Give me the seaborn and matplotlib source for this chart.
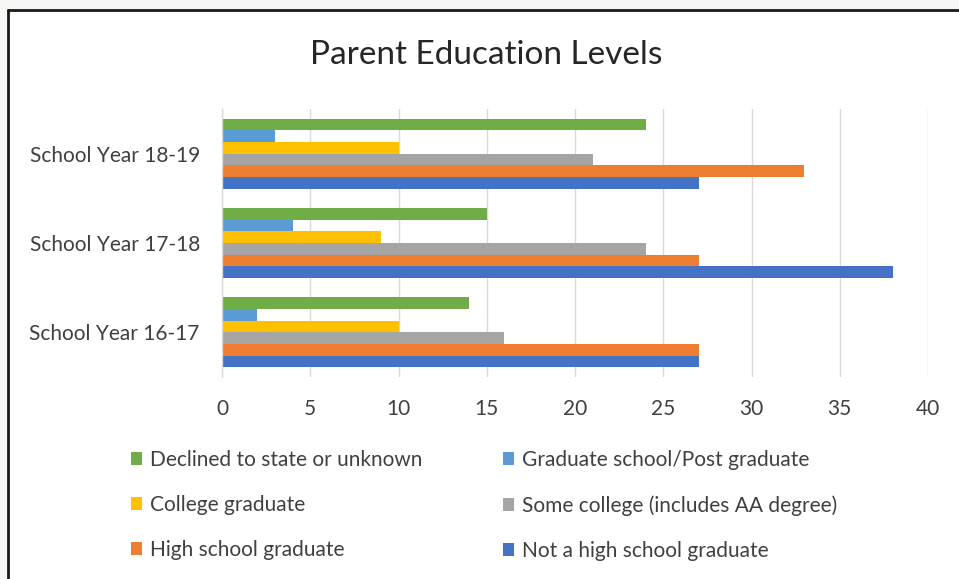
import matplotlib
matplotlib.use("Agg")
import matplotlib.pyplot as plt
import seaborn as sns
import pandas as pd
from matplotlib.patches import Patch, Rectangle
from matplotlib.lines import Line2D

categories = ["School Year 18-19", "School Year 17-18", "School Year 16-17"]
series_names = [
    "Declined to state or unknown",
    "Graduate school/Post graduate",
    "College graduate",
    "Some college (includes AA degree)",
    "High school graduate",
    "Not a high school graduate",
]
declined = [24, 15, 14]
graduate = [3, 4, 2]
college = [10, 9, 10]
some_college = [21, 24, 16]
high_school = [33, 27, 27]
not_high_school = [27, 38, 27]
colors = ["#70AD47", "#5B9BD5", "#FFC000", "#A5A5A5", "#ED7D31", "#4472C4"]
x_ticks = [0, 5, 10, 15, 20, 25, 30, 35, 40]

values = [declined, graduate, college, some_college, high_school, not_high_school]
rows = []
for name, vals in zip(series_names, values):
    for cat, v in zip(categories, vals):
        rows.append({"Category": cat, "Series": name, "Value": v})
df = pd.DataFrame(rows)

sns.set_theme(style="white")
plt.rcParams["font.family"] = ["Lato", "DejaVu Sans"]

W, H = 959, 579
fig = plt.figure(figsize=(W / 100, H / 100), dpi=100)
fig.patch.set_facecolor("white")

ax = fig.add_axes([222 / W, 1 - 377 / H, (928 - 222) / W, (377 - 109) / H])
sns.barplot(data=df, y="Category", x="Value", hue="Series", order=categories,
            hue_order=series_names, palette=colors, orient="h", width=0.78,
            saturation=1, ax=ax, legend=False, edgecolor="none")
ax.set_xlim(0, 40)
ax.set_ylim(2.5, -0.5)
ax.set_xticks(x_ticks)
ax.set_xticklabels([str(t) for t in x_ticks])
ax.set_xlabel("")
ax.set_ylabel("")
ax.grid(axis="x", color="#d9d9d9", linewidth=1)
ax.set_axisbelow(True)
for s in ["top", "right", "bottom"]:
    ax.spines[s].set_visible(False)
ax.spines["left"].set_color("#d9d9d9")
ax.spines["left"].set_linewidth(1)
ax.tick_params(axis="both", length=0, labelsize=15, colors="#404040")
ax.tick_params(axis="x", pad=16)
ax.tick_params(axis="y", pad=16)

fig.text(486 / W, 1 - 55 / H, "Parent Education Levels", ha="center", va="center",
         fontsize=24, color="#262626")

handles = [Patch(facecolor=c, edgecolor="none") for c in colors]
col1 = [0, 2, 4]
col2 = [1, 3, 5]
for idx, xpos in [(col1, 131), (col2, 503)]:
    fig.legend([handles[i] for i in idx], [series_names[i] for i in idx],
               loc="upper left", bbox_to_anchor=(xpos / W, 1 - 450 / H),
               frameon=False, fontsize=15, labelcolor="#404040",
               handlelength=0.55, handleheight=0.6, handletextpad=0.35,
               labelspacing=1.2, borderpad=0, borderaxespad=0)

# outer frame (top and left edges visible)
fig.add_artist(Rectangle((0, 1 - 9 / H), 1, 9 / H, transform=fig.transFigure,
                         facecolor="#f7f7f5", edgecolor="none"))
fig.add_artist(Rectangle((0, 0), 7 / W, 1, transform=fig.transFigure,
                         facecolor="#f7f7f5", edgecolor="none"))
fig.add_artist(Line2D([8 / W, 1], [1 - 10 / H, 1 - 10 / H], transform=fig.transFigure,
                      color="#1a1a1a", linewidth=2))
fig.add_artist(Line2D([8 / W, 8 / W], [0, 1 - 10 / H], transform=fig.transFigure,
                      color="#1a1a1a", linewidth=2))

fig.savefig("out.png", dpi=100)
